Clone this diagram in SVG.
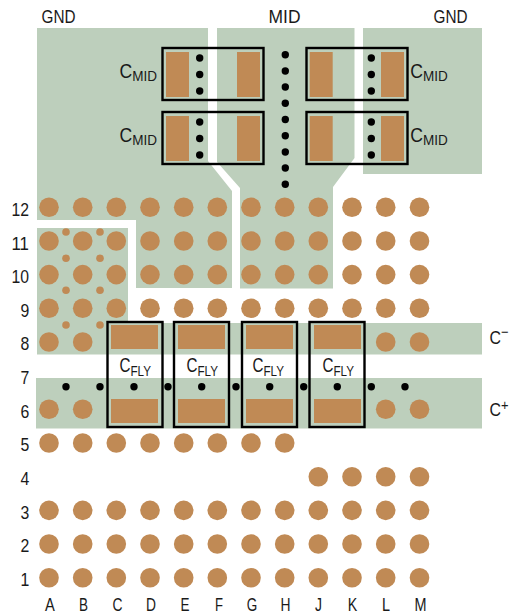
<svg xmlns="http://www.w3.org/2000/svg" width="516" height="616" viewBox="0 0 516 616">
<style>
text{font-family:"Liberation Sans",Arial,sans-serif;fill:#1a1a1a;font-size:18.5px}
.c{text-anchor:middle}.r{text-anchor:end}
.cu{fill:#bdcfbc}
.p{fill:#c08a55}
.b{fill:#c08a55}
.v{fill:#000}
.o{fill:none;stroke:#000;stroke-width:2.4}
.m{font-size:19.5px}
.s{font-size:15px}
</style>
<defs>
<circle id="b" r="9.8" class="b"/>
<circle id="sv" r="3.8" class="b"/>
<circle id="v" r="3.7" class="v"/>
</defs>
<rect width="516" height="616" fill="#fff"/>
<g id="copper">
<path class="cu" d="M37 28H208V161L232 191V288H136V220H37Z"/>
<path class="cu" d="M217 28H354.500V158L333 187V288.500H240V188L217 162Z"/>
<path class="cu" d="M363 28H482V174H363Z"/>
<path class="cu" d="M37 228H128V323H482V354.500H37Z"/>
<path class="cu" d="M36 378H482V428.500H36Z"/>
</g>
<g id="balls">
<g id="row12"><use href="#b" x="49" y="207.3"/><use href="#b" x="82.7" y="207.3"/><use href="#b" x="116.3" y="207.3"/><use href="#b" x="150" y="207.3"/><use href="#b" x="183.7" y="207.3"/><use href="#b" x="217.3" y="207.3"/><use href="#b" x="251" y="207.3"/><use href="#b" x="284.7" y="207.3"/><use href="#b" x="318.3" y="207.3"/><use href="#b" x="352" y="207.3"/><use href="#b" x="385.7" y="207.3"/><use href="#b" x="419.5" y="207.3"/></g>
<g id="row11"><use href="#b" x="49" y="241"/><use href="#b" x="82.7" y="241"/><use href="#b" x="116.3" y="241"/><use href="#b" x="150" y="241"/><use href="#b" x="183.7" y="241"/><use href="#b" x="217.3" y="241"/><use href="#b" x="251" y="241"/><use href="#b" x="284.7" y="241"/><use href="#b" x="318.3" y="241"/><use href="#b" x="352" y="241"/><use href="#b" x="385.7" y="241"/><use href="#b" x="419.5" y="241"/></g>
<g id="row10"><use href="#b" x="49" y="274.6"/><use href="#b" x="82.7" y="274.6"/><use href="#b" x="116.3" y="274.6"/><use href="#b" x="150" y="274.6"/><use href="#b" x="183.7" y="274.6"/><use href="#b" x="217.3" y="274.6"/><use href="#b" x="251" y="274.6"/><use href="#b" x="284.7" y="274.6"/><use href="#b" x="318.3" y="274.6"/><use href="#b" x="352" y="274.6"/><use href="#b" x="385.7" y="274.6"/><use href="#b" x="419.5" y="274.6"/></g>
<g id="row9"><use href="#b" x="49" y="308.3"/><use href="#b" x="82.7" y="308.3"/><use href="#b" x="116.3" y="308.3"/><use href="#b" x="150" y="308.3"/><use href="#b" x="183.7" y="308.3"/><use href="#b" x="217.3" y="308.3"/><use href="#b" x="251" y="308.3"/><use href="#b" x="284.7" y="308.3"/><use href="#b" x="318.3" y="308.3"/><use href="#b" x="352" y="308.3"/><use href="#b" x="385.7" y="308.3"/><use href="#b" x="419.5" y="308.3"/></g>
<g id="row8"><use href="#b" x="49" y="342"/><use href="#b" x="82.7" y="342"/><use href="#b" x="385.7" y="342"/><use href="#b" x="419.5" y="342"/></g>
<g id="row6"><use href="#b" x="49" y="409.3"/><use href="#b" x="82.7" y="409.3"/><use href="#b" x="385.7" y="409.3"/><use href="#b" x="419.5" y="409.3"/></g>
<g id="row5"><use href="#b" x="49" y="443"/><use href="#b" x="82.7" y="443"/><use href="#b" x="116.3" y="443"/><use href="#b" x="150" y="443"/><use href="#b" x="183.7" y="443"/><use href="#b" x="217.3" y="443"/><use href="#b" x="251" y="443"/><use href="#b" x="284.7" y="443"/></g>
<g id="row4"><use href="#b" x="318.3" y="476.7"/><use href="#b" x="352" y="476.7"/><use href="#b" x="385.7" y="476.7"/><use href="#b" x="419.5" y="476.7"/></g>
<g id="row3"><use href="#b" x="49" y="510.4"/><use href="#b" x="82.7" y="510.4"/><use href="#b" x="116.3" y="510.4"/><use href="#b" x="150" y="510.4"/><use href="#b" x="183.7" y="510.4"/><use href="#b" x="217.3" y="510.4"/><use href="#b" x="251" y="510.4"/><use href="#b" x="284.7" y="510.4"/><use href="#b" x="318.3" y="510.4"/><use href="#b" x="352" y="510.4"/><use href="#b" x="385.7" y="510.4"/><use href="#b" x="419.5" y="510.4"/></g>
<g id="row2"><use href="#b" x="49" y="544"/><use href="#b" x="82.7" y="544"/><use href="#b" x="116.3" y="544"/><use href="#b" x="150" y="544"/><use href="#b" x="183.7" y="544"/><use href="#b" x="217.3" y="544"/><use href="#b" x="251" y="544"/><use href="#b" x="284.7" y="544"/><use href="#b" x="318.3" y="544"/><use href="#b" x="352" y="544"/><use href="#b" x="385.7" y="544"/><use href="#b" x="419.5" y="544"/></g>
<g id="row1"><use href="#b" x="49" y="577.7"/><use href="#b" x="82.7" y="577.7"/><use href="#b" x="116.3" y="577.7"/><use href="#b" x="150" y="577.7"/><use href="#b" x="183.7" y="577.7"/><use href="#b" x="217.3" y="577.7"/><use href="#b" x="251" y="577.7"/><use href="#b" x="284.7" y="577.7"/><use href="#b" x="318.3" y="577.7"/><use href="#b" x="352" y="577.7"/><use href="#b" x="385.7" y="577.7"/><use href="#b" x="419.5" y="577.7"/></g>
</g>
<g id="small-vias"><use href="#sv" x="66" y="232"/><use href="#sv" x="100" y="232"/><use href="#sv" x="66" y="258.3"/><use href="#sv" x="100" y="258.3"/><use href="#sv" x="66" y="290.3"/><use href="#sv" x="100" y="290.3"/><use href="#sv" x="66" y="325"/><use href="#sv" x="100" y="325"/></g>
<g id="vias">
<use href="#v" x="199.7" y="58"/><use href="#v" x="199.7" y="74.5"/><use href="#v" x="199.7" y="91"/><use href="#v" x="199.7" y="122"/><use href="#v" x="199.7" y="138.5"/><use href="#v" x="199.7" y="155"/>
<use href="#v" x="371.3" y="58"/><use href="#v" x="371.3" y="74.5"/><use href="#v" x="371.3" y="91"/><use href="#v" x="371.3" y="122"/><use href="#v" x="371.3" y="138.5"/><use href="#v" x="371.3" y="155"/>
<use href="#v" x="285.3" y="54.7"/><use href="#v" x="285.3" y="71"/><use href="#v" x="285.3" y="87"/><use href="#v" x="285.3" y="103.3"/><use href="#v" x="285.3" y="119.5"/><use href="#v" x="285.3" y="135.7"/><use href="#v" x="285.3" y="152"/><use href="#v" x="285.3" y="168"/><use href="#v" x="285.3" y="184.3"/>
<use href="#v" x="66" y="386.7"/><use href="#v" x="100" y="386.7"/><use href="#v" x="134" y="386.7"/><use href="#v" x="168" y="386.7"/><use href="#v" x="201.7" y="386.7"/><use href="#v" x="236" y="386.7"/><use href="#v" x="269.7" y="386.7"/><use href="#v" x="303.7" y="386.7"/><use href="#v" x="337.3" y="386.7"/><use href="#v" x="371.3" y="386.7"/><use href="#v" x="405" y="386.7"/>
</g>
<g id="cmid1"><rect class="o" x="162.5" y="48" width="101" height="52"/><rect class="p" x="166" y="52" width="23" height="45"/><rect class="p" x="237" y="52" width="23" height="45"/><text class="m" x="119.500" y="77.500" textLength="37.500" lengthAdjust="spacingAndGlyphs">C<tspan class="s" dy="3.500">MID</tspan></text></g>
<g id="cmid2"><rect class="o" x="162.5" y="112" width="101" height="52"/><rect class="p" x="166" y="116" width="23" height="45"/><rect class="p" x="237" y="116" width="23" height="45"/><text class="m" x="119.500" y="141.500" textLength="37.500" lengthAdjust="spacingAndGlyphs">C<tspan class="s" dy="3.500">MID</tspan></text></g>
<g id="cmid3"><rect class="o" x="306.5" y="48" width="101" height="52"/><rect class="p" x="309.7" y="52" width="23" height="45"/><rect class="p" x="381" y="52" width="23" height="45"/><text class="m" x="410.200" y="77.500" textLength="37.500" lengthAdjust="spacingAndGlyphs">C<tspan class="s" dy="3.500">MID</tspan></text></g>
<g id="cmid4"><rect class="o" x="306.5" y="112" width="101" height="52"/><rect class="p" x="309.7" y="116" width="23" height="45"/><rect class="p" x="381" y="116" width="23" height="45"/><text class="m" x="410.200" y="141.500" textLength="37.500" lengthAdjust="spacingAndGlyphs">C<tspan class="s" dy="3.500">MID</tspan></text></g>
<g id="cfly1"><rect class="o" x="107.5" y="322" width="55" height="105"/><rect class="p" x="111" y="325" width="47" height="24"/><rect class="p" x="111" y="399" width="47" height="24"/><text class="m" x="119.500" y="372" textLength="31.500" lengthAdjust="spacingAndGlyphs">C<tspan class="s" dy="3.500">FLY</tspan></text></g>
<g id="cfly2"><rect class="o" x="174" y="322" width="55" height="105"/><rect class="p" x="178" y="325" width="47" height="24"/><rect class="p" x="178" y="399" width="47" height="24"/><text class="m" x="186.500" y="372" textLength="31.500" lengthAdjust="spacingAndGlyphs">C<tspan class="s" dy="3.500">FLY</tspan></text></g>
<g id="cfly3"><rect class="o" x="242" y="322" width="55" height="105"/><rect class="p" x="246" y="325" width="47" height="24"/><rect class="p" x="246" y="399" width="47" height="24"/><text class="m" x="252.500" y="372" textLength="31.500" lengthAdjust="spacingAndGlyphs">C<tspan class="s" dy="3.500">FLY</tspan></text></g>
<g id="cfly4"><rect class="o" x="309.5" y="322" width="55" height="105"/><rect class="p" x="314" y="325" width="47" height="24"/><rect class="p" x="314" y="399" width="47" height="24"/><text class="m" x="322.500" y="372" textLength="31.500" lengthAdjust="spacingAndGlyphs">C<tspan class="s" dy="3.500">FLY</tspan></text></g>
<g id="labels">
<text x="41.500" y="22.500" textLength="34" lengthAdjust="spacingAndGlyphs">GND</text><text x="268.500" y="22.500" textLength="32" lengthAdjust="spacingAndGlyphs">MID</text><text x="433.500" y="22.500" textLength="34" lengthAdjust="spacingAndGlyphs">GND</text>
<text x="489.500" y="344" textLength="19" lengthAdjust="spacingAndGlyphs">C<tspan class="s" dy="-7">−</tspan></text><text x="489.500" y="416" textLength="19" lengthAdjust="spacingAndGlyphs">C<tspan class="s" dy="-6">+</tspan></text>
<text x="11.500" y="216" textLength="17.500" lengthAdjust="spacingAndGlyphs">12</text><text x="11.500" y="249.500" textLength="17.500" lengthAdjust="spacingAndGlyphs">11</text><text x="11.500" y="283" textLength="17.500" lengthAdjust="spacingAndGlyphs">10</text><text x="20.500" y="316.500" textLength="8.800" lengthAdjust="spacingAndGlyphs">9</text><text x="20.500" y="349.500" textLength="8.800" lengthAdjust="spacingAndGlyphs">8</text><text x="20.500" y="384" textLength="8.800" lengthAdjust="spacingAndGlyphs">7</text><text x="20.500" y="417.500" textLength="8.800" lengthAdjust="spacingAndGlyphs">6</text><text x="20.500" y="451" textLength="8.800" lengthAdjust="spacingAndGlyphs">5</text><text x="20.500" y="485" textLength="8.800" lengthAdjust="spacingAndGlyphs">4</text><text x="20.500" y="518.500" textLength="8.800" lengthAdjust="spacingAndGlyphs">3</text><text x="20.500" y="552" textLength="8.800" lengthAdjust="spacingAndGlyphs">2</text><text x="20.500" y="585.500" textLength="8.800" lengthAdjust="spacingAndGlyphs">1</text>
<text class="c" x="50" y="611" textLength="9.800" lengthAdjust="spacingAndGlyphs">A</text><text class="c" x="83.500" y="611" textLength="9" lengthAdjust="spacingAndGlyphs">B</text><text class="c" x="117.500" y="611" textLength="10" lengthAdjust="spacingAndGlyphs">C</text><text class="c" x="151" y="611" textLength="10" lengthAdjust="spacingAndGlyphs">D</text><text class="c" x="185" y="611" textLength="9" lengthAdjust="spacingAndGlyphs">E</text><text class="c" x="219" y="611" textLength="8" lengthAdjust="spacingAndGlyphs">F</text><text class="c" x="252" y="611" textLength="10.500" lengthAdjust="spacingAndGlyphs">G</text><text class="c" x="285.500" y="611" textLength="10" lengthAdjust="spacingAndGlyphs">H</text><text class="c" x="318.500" y="611" textLength="7" lengthAdjust="spacingAndGlyphs">J</text><text class="c" x="352.500" y="611" textLength="9.500" lengthAdjust="spacingAndGlyphs">K</text><text class="c" x="386" y="611" textLength="8" lengthAdjust="spacingAndGlyphs">L</text><text class="c" x="420.500" y="611" textLength="12" lengthAdjust="spacingAndGlyphs">M</text>
</g>
</svg>
